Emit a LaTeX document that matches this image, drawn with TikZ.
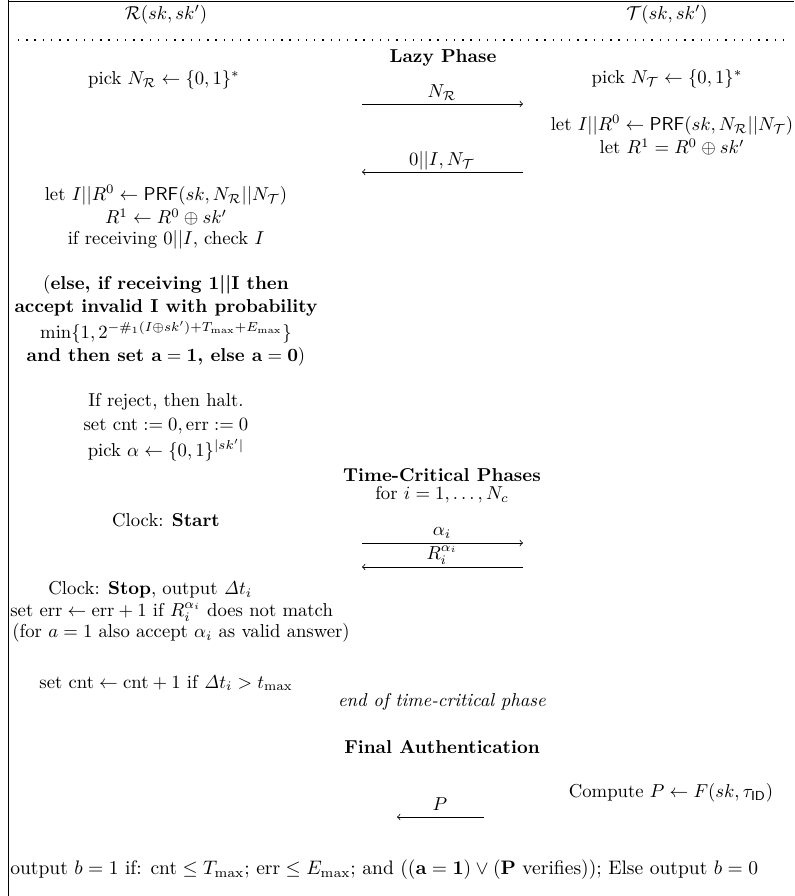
\documentclass[tikz,border=0pt]{standalone}
\usepackage{amsmath,amssymb}
\usepackage{graphicx}
\begin{document}
\begin{tikzpicture}[x=0.535pt,y=-0.535pt,
  txt/.style={inner sep=0pt, font=\fontsize{10}{12}\selectfont},
  lw/.style={txt, anchor=west},
  msg/.style={->, line width=0.4pt},
  frameline/.style={line width=0.5pt},
  dotline/.style={line width=0.75pt, dash pattern=on 0.75pt off 3.65pt}]
\useasboundingbox (0,0) rectangle (794,896);
\draw[frameline] (8,1) -- (794,1);
\draw[frameline] (8,0) -- (8,896);
% titles
\node[txt] (rt) at (166,15) {$\mathcal{R}(sk, sk')$};
\node[txt] (tt) at (667,15) {$\mathcal{T}(sk, sk')$};
\draw[dotline] (18,40) -- (790,40);
% lazy phase
\node[txt] (lazy) at (443,58) {\textbf{Lazy Phase}};
\node[txt] (pickr) at (164,80) {pick $N_{\mathcal{R}} \leftarrow \{0,1\}^*$};
\node[txt] (pickt) at (667,79) {pick $N_{\mathcal{T}} \leftarrow \{0,1\}^*$};
\coordinate (m1l) at (362,104);
\coordinate (m1r) at (523,104);
\draw[msg] (m1l) -- (m1r);
\node[txt] (m1lab) at (442,93) {$N_{\mathcal{R}}$};
\node[txt] (tlet) at (672,125) {let $I||R^0 \leftarrow \mathsf{PRF}(sk, N_{\mathcal{R}}||N_{\mathcal{T}})$};
\node[txt] (tr1) at (672,147) {let $R^1 = R^0 \oplus sk'$};
\coordinate (m2l) at (362,172);
\coordinate (m2r) at (523,172);
\draw[msg] (m2r) -- (m2l);
\node[txt] (m2lab) at (442,161) {$0||I, N_{\mathcal{T}}$};
% reader lazy
\node[txt] (rlet) at (166,195) {let $I||R^0 \leftarrow \mathsf{PRF}(sk, N_{\mathcal{R}}||N_{\mathcal{T}})$};
\node[txt] (rr1) at (166,217) {$R^1 \leftarrow R^0 \oplus sk'$};
\node[txt] (rchk) at (166,240) {if receiving $0||I$, check $I$};
\node[txt] (b1) at (166,285) {(\textbf{else, if receiving 1||I then}};
\node[txt] (b2) at (166,308) {\textbf{accept invalid I with probability}};
\node[txt] (b3) at (166,332) {$\min\{1, 2^{-\#_1(I\oplus sk')+T_{\max}+E_{\max}}\}$};
\node[txt] (b4) at (166,357) {\textbf{and then set $\mathbf{a=1}$, else $\mathbf{a=0}$})};
\node[txt] (rej) at (166,402) {If reject, then halt.};
\node[txt] (setc) at (166,426) {set $\mathrm{cnt} := 0, \mathrm{err} := 0$};
\node[txt] (pa) at (166,450) {pick $\alpha \leftarrow \{0,1\}^{|sk'|}$};
% time-critical
\node[txt] (tcp) at (442,475) {\textbf{Time-Critical Phases}};
\node[txt] (fori) at (442,495) {for $i = 1, \ldots, N_c$};
\node[txt] (cst) at (166,520) {Clock: \textbf{Start}};
\coordinate (m3l) at (362,543);
\coordinate (m3r) at (523,543);
\draw[msg] (m3l) -- (m3r);
\node[txt] (m3lab) at (442,533) {$\alpha_i$};
\coordinate (m4l) at (362,567);
\coordinate (m4r) at (523,567);
\draw[msg] (m4r) -- (m4l);
\node[txt] (m4lab) at (442,555) {$R_i^{\alpha_i}$};
\node[lw] (csp) at (48,590) {Clock: \textbf{Stop}, output $\mathit{\Delta} t_i$};
\node[lw] (serr) at (10,612) {set $\mathrm{err} \leftarrow \mathrm{err}+1$ if $R_i^{\alpha_i}$ does not match};
\node[lw] (fora) at (12,633) {(for $a=1$ also accept $\alpha_i$ as valid answer)};
\node[txt] (scnt) at (166,683) {set $\mathrm{cnt} \leftarrow \mathrm{cnt}+1$ if $\mathit{\Delta} t_i > t_{\max}$};
\node[txt] (eotc) at (442,702) {\textit{end of time-critical phase}};
% final
\node[txt] (fin) at (442,747) {\textbf{Final Authentication}};
\node[txt] (comp) at (671,793) {Compute $P \leftarrow F(sk, \tau_{\mathsf{ID}})$};
\coordinate (m5l) at (397,817);
\coordinate (m5r) at (484,817);
\draw[msg] (m5r) -- (m5l);
\node[txt] (m5lab) at (440,804) {$P$};
\node[lw] (outp) at (10,870) {\resizebox{400pt}{!}{output $b=1$ if: $\mathrm{cnt} \leq T_{\max}$; $\mathrm{err} \leq E_{\max}$; and $((\mathbf{a=1}) \vee (\mathbf{P}\text{ verifies}))$; Else output $b=0$}};
\end{tikzpicture}
\end{document}
